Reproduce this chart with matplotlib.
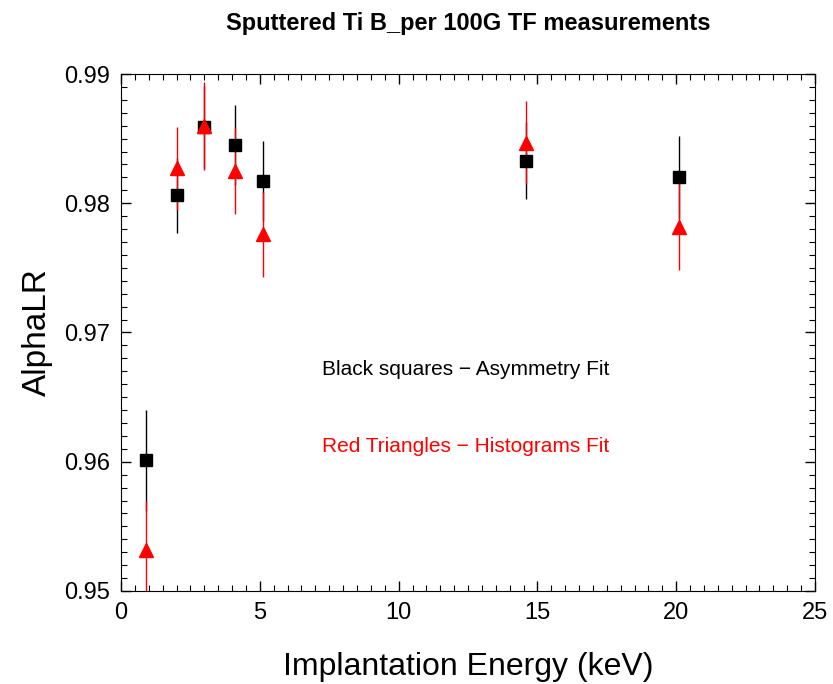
import matplotlib
matplotlib.use('Agg')
import matplotlib.pyplot as plt
from matplotlib.ticker import MultipleLocator, FormatStrFormatter

# Asymmetry fit (black squares)
energy_asym = [0.9, 2.0, 3.0, 4.1, 5.1, 14.6, 20.1]
alpha_asym = [0.9601, 0.9806, 0.9859, 0.9845, 0.9817, 0.9833, 0.9820]
err_asym = [0.0039, 0.0029, 0.0032, 0.0031, 0.0031, 0.0030, 0.0032]

# Histograms fit (red triangles)
energy_hist = [0.9, 2.0, 3.0, 4.1, 5.1, 14.6, 20.1]
alpha_hist = [0.9532, 0.9827, 0.9860, 0.9825, 0.9776, 0.9847, 0.9782]
err_hist = [0.0038, 0.0032, 0.0034, 0.0033, 0.0033, 0.0032, 0.0034]

plt.rcParams['font.family'] = ['Liberation Sans', 'DejaVu Sans']

fig = plt.figure(figsize=(8.33, 6.84), dpi=100)
ax = fig.add_axes([0.1453, 0.136, 0.8331, 0.7558])

# error bars first, markers on top
ax.errorbar(energy_asym, alpha_asym, yerr=err_asym, fmt='none', ecolor='black', elinewidth=1.0, zorder=2)
ax.errorbar(energy_hist, alpha_hist, yerr=err_hist, fmt='none', ecolor='red', elinewidth=1.0, zorder=2)
ax.plot(energy_asym, alpha_asym, 's', color='black', markersize=8.5, zorder=3)
ax.plot(energy_hist, alpha_hist, '^', color='red', markersize=10, zorder=4)

ax.set_xlim(0, 25)
ax.set_ylim(0.95, 0.99)
ax.xaxis.set_major_locator(MultipleLocator(5))
ax.xaxis.set_minor_locator(MultipleLocator(0.5))
ax.yaxis.set_major_locator(MultipleLocator(0.01))
ax.yaxis.set_minor_locator(MultipleLocator(0.001))
ax.yaxis.set_major_formatter(FormatStrFormatter('%.2f'))
ax.tick_params(which='both', direction='in', top=True, right=True, labelsize=17)
ax.tick_params(which='major', length=7, width=1)
ax.tick_params(which='minor', length=4, width=0.8)
ax.tick_params(axis='x', pad=8)
ax.tick_params(axis='y', pad=8)

ax.set_xlabel('Implantation Energy (keV)', fontsize=23, labelpad=20)
ax.set_ylabel('AlphaLR', fontsize=24, labelpad=8)
ax.set_title('Sputtered Ti B_per 100G TF measurements', fontsize=17, fontweight='bold', pad=32)

ax.text(7.25, 0.9671, 'Black squares \u2212 Asymmetry Fit', fontsize=15, color='black', va='center')
ax.text(7.25, 0.9612, 'Red Triangles \u2212 Histograms Fit', fontsize=15, color='red', va='center')

plt.savefig('out.png', dpi=100)
